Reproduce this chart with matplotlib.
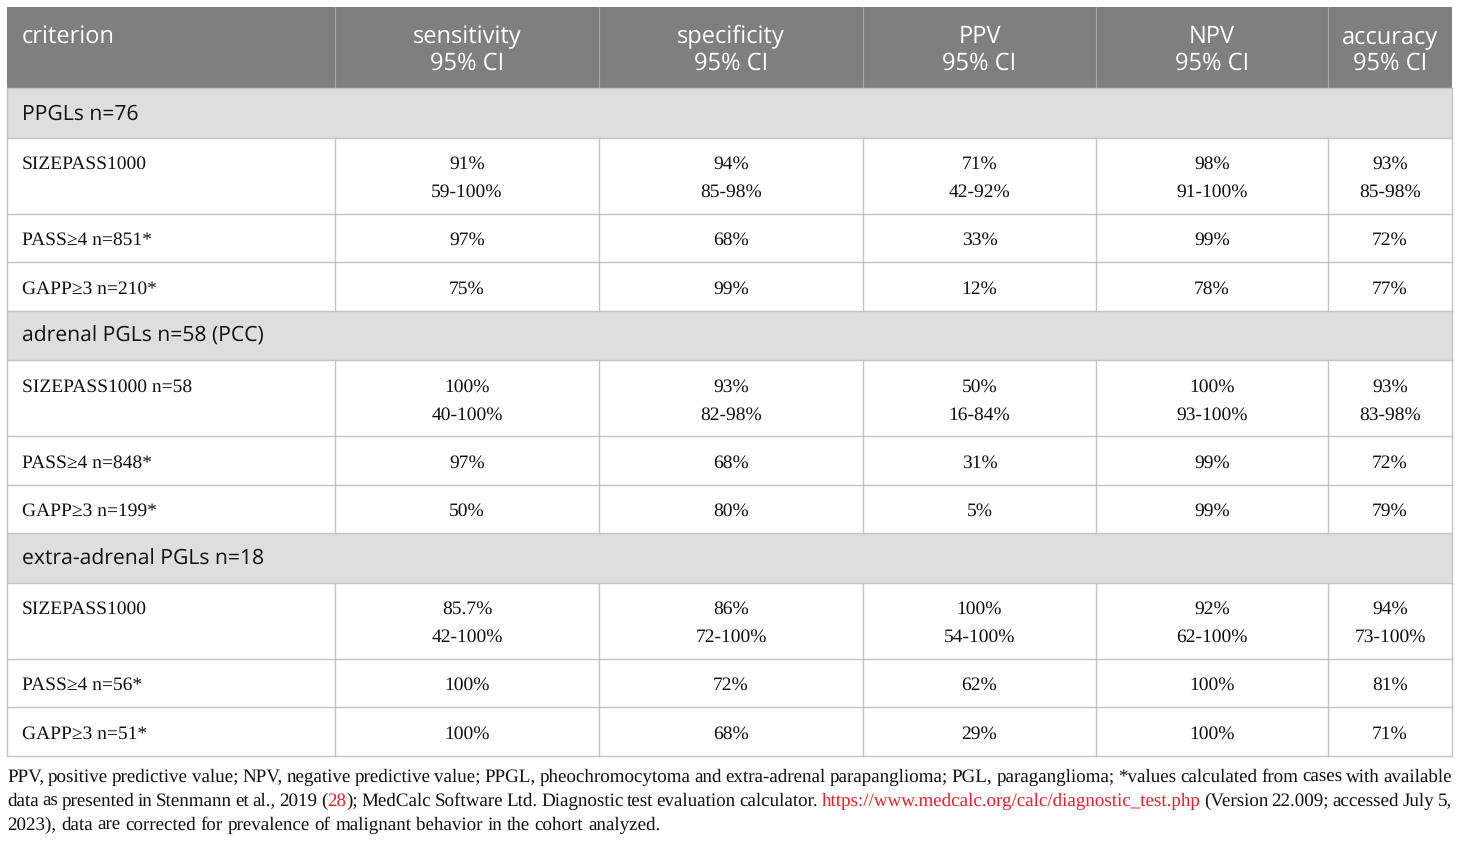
import matplotlib
matplotlib.use("Agg")
import matplotlib.pyplot as plt
from matplotlib.patches import Rectangle

plt.rcParams["text.hinting"] = "no_hinting"

# ---------------- data ----------------
header_top = ["criterion", "sensitivity", "specificity", "PPV", "NPV", "accuracy"]
header_sub = ["", "95% CI", "95% CI", "95% CI", "95% CI", "95% CI"]

groups = ["PPGLs n=76", "adrenal PGLs n=58 (PCC)", "extra-adrenal PGLs n=18"]

criteria = [
    ["SIZEPASS1000", "PASS≥4 n=851*", "GAPP≥3 n=210*"],
    ["SIZEPASS1000 n=58", "PASS≥4 n=848*", "GAPP≥3 n=199*"],
    ["SIZEPASS1000", "PASS≥4 n=56*", "GAPP≥3 n=51*"],
]

values = [
    [["91%", "94%", "71%", "98%", "93%"],
     ["97%", "68%", "33%", "99%", "72%"],
     ["75%", "99%", "12%", "78%", "77%"]],
    [["100%", "93%", "50%", "100%", "93%"],
     ["97%", "68%", "31%", "99%", "72%"],
     ["50%", "80%", "5%", "99%", "79%"]],
    [["85.7%", "86%", "100%", "92%", "94%"],
     ["100%", "72%", "62%", "100%", "81%"],
     ["100%", "68%", "29%", "100%", "71%"]],
]

ci_values = [
    ["59-100%", "85-98%", "42-92%", "91-100%", "85-98%"],
    ["40-100%", "82-98%", "16-84%", "93-100%", "83-98%"],
    ["42-100%", "72-100%", "54-100%", "62-100%", "73-100%"],
]

footnote_lines = [
    [("PPV, positive predictive value; NPV, negative predictive value; PPGL, pheochromocytoma and extra-adrenal parapanglioma; PGL, paraganglioma; *values calculated from cases with available", "k")],
    [("data as presented in Stenmann et al., 2019 (", "k"), ("28", "r"), ("); MedCalc Software Ltd. Diagnostic test evaluation calculator. ", "k"),
     ("https://www.medcalc.org/calc/diagnostic_test.php", "r"), (" (Version 22.009; accessed July 5,", "k")],
    [("2023), data are corrected for prevalence of malignant behavior in the cohort analyzed.", "k")],
]
justify = [True, True, False]

# ---------------- layout ----------------
W, H = 1460, 842
col_edges = [7, 335, 599, 863, 1096, 1328, 1452]
y0 = 7
h_header = 81
h_group = 49.5
h_double = 76
h_single = 48.5

header_bg = "#7f7f7f"
group_bg = "#dedede"
grid_c = "#c4c4c4"
red = "#e3242b"
ink = "#111111"

sans = ["Open Sans", "DejaVu Sans"]
serif = ["Liberation Serif", "DejaVu Serif"]

fs_head = 17
fs_group = 15.2
fs_body = 14
fs_foot = 13.7

fig = plt.figure(figsize=(W / 100, H / 100), dpi=100)
ax = fig.add_axes([0, 0, 1, 1])
ax.set_xlim(0, W)
ax.set_ylim(H, 0)
ax.axis("off")

left, right = col_edges[0], col_edges[-1]
pad = 15

# header
ax.add_patch(Rectangle((left, y0), right - left, h_header, facecolor=header_bg, edgecolor="none"))
for x in col_edges[1:-1]:
    ax.plot([x, x], [y0, y0 + h_header], color="#a8a8a8", lw=0.8)
for i, (t, s) in enumerate(zip(header_top, header_sub)):
    if i == 0:
        ax.text(left + pad, y0 + 30, t, color="white", fontsize=fs_head, family=sans,
                ha="left", va="center")
    else:
        cx = (col_edges[i] + col_edges[i + 1]) / 2
        ax.text(cx, y0 + 30, t, color="white", fontsize=fs_head, family=sans, ha="center", va="center")
        ax.text(cx, y0 + 57, s, color="white", fontsize=fs_head, family=sans, ha="center", va="center")

y = y0 + h_header
for g, gname in enumerate(groups):
    ax.add_patch(Rectangle((left, y), right - left, h_group, facecolor=group_bg, edgecolor="none"))
    ax.plot([left, right], [y, y], color=grid_c, lw=1)
    ax.text(left + pad, y + 26, gname, fontsize=fs_group, family=sans, color=ink,
            ha="left", va="center")
    y += h_group
    for r, crit in enumerate(criteria[g]):
        double = (r == 0)
        h = h_double if double else h_single
        ax.plot([left, right], [y, y], color=grid_c, lw=1)
        for x in col_edges[1:-1]:
            ax.plot([x, x], [y, y + h], color=grid_c, lw=1)
        ax.text(left + pad, y + 27, crit, fontsize=fs_body, family=serif, color=ink,
                ha="left", va="center")
        for c in range(5):
            cx = (col_edges[c + 1] + col_edges[c + 2]) / 2
            ax.text(cx, y + 27, values[g][r][c], fontsize=fs_body, family=serif, color=ink,
                    ha="center", va="center")
            if double:
                ax.text(cx, y + 55, ci_values[g][c], fontsize=fs_body, family=serif, color=ink,
                        ha="center", va="center")
        y += h
ax.plot([left, right], [y, y], color=grid_c, lw=1)
table_bottom = y
ax.plot([left, left], [y0 + h_header, table_bottom], color=grid_c, lw=1)
ax.plot([right, right], [y0 + h_header, table_bottom], color=grid_c, lw=1)

# ---------------- footnote (justified, word by word) ----------------
renderer = fig.canvas.get_renderer()
line_base = [782, 806, 830]


def width_of(s):
    t = ax.text(0, 0, s, fontsize=fs_foot, family=serif)
    bb = t.get_window_extent(renderer=renderer)
    t.remove()
    return bb.width


for li, segs in enumerate(footnote_lines):
    words = [[]]
    for text, col in segs:
        parts = text.split(" ")
        for pi, p in enumerate(parts):
            if pi > 0:
                words.append([])
            if p:
                words[-1].append((p, col))
    words = [w for w in words if w]
    wwidths = [[width_of(p) for p, _ in w] for w in words]
    total = sum(sum(ws) for ws in wwidths)
    if justify[li] and len(words) > 1:
        gap = (right - left - total) / (len(words) - 1)
    else:
        gap = width_of("a b") - width_of("ab")
    x = left
    for w, ws in zip(words, wwidths):
        for (p, col), pw in zip(w, ws):
            ax.text(x, line_base[li], p, fontsize=fs_foot, family=serif,
                    color=(red if col == "r" else ink), ha="left", va="baseline")
            x += pw
        x += gap

fig.savefig("out.png", dpi=100)
